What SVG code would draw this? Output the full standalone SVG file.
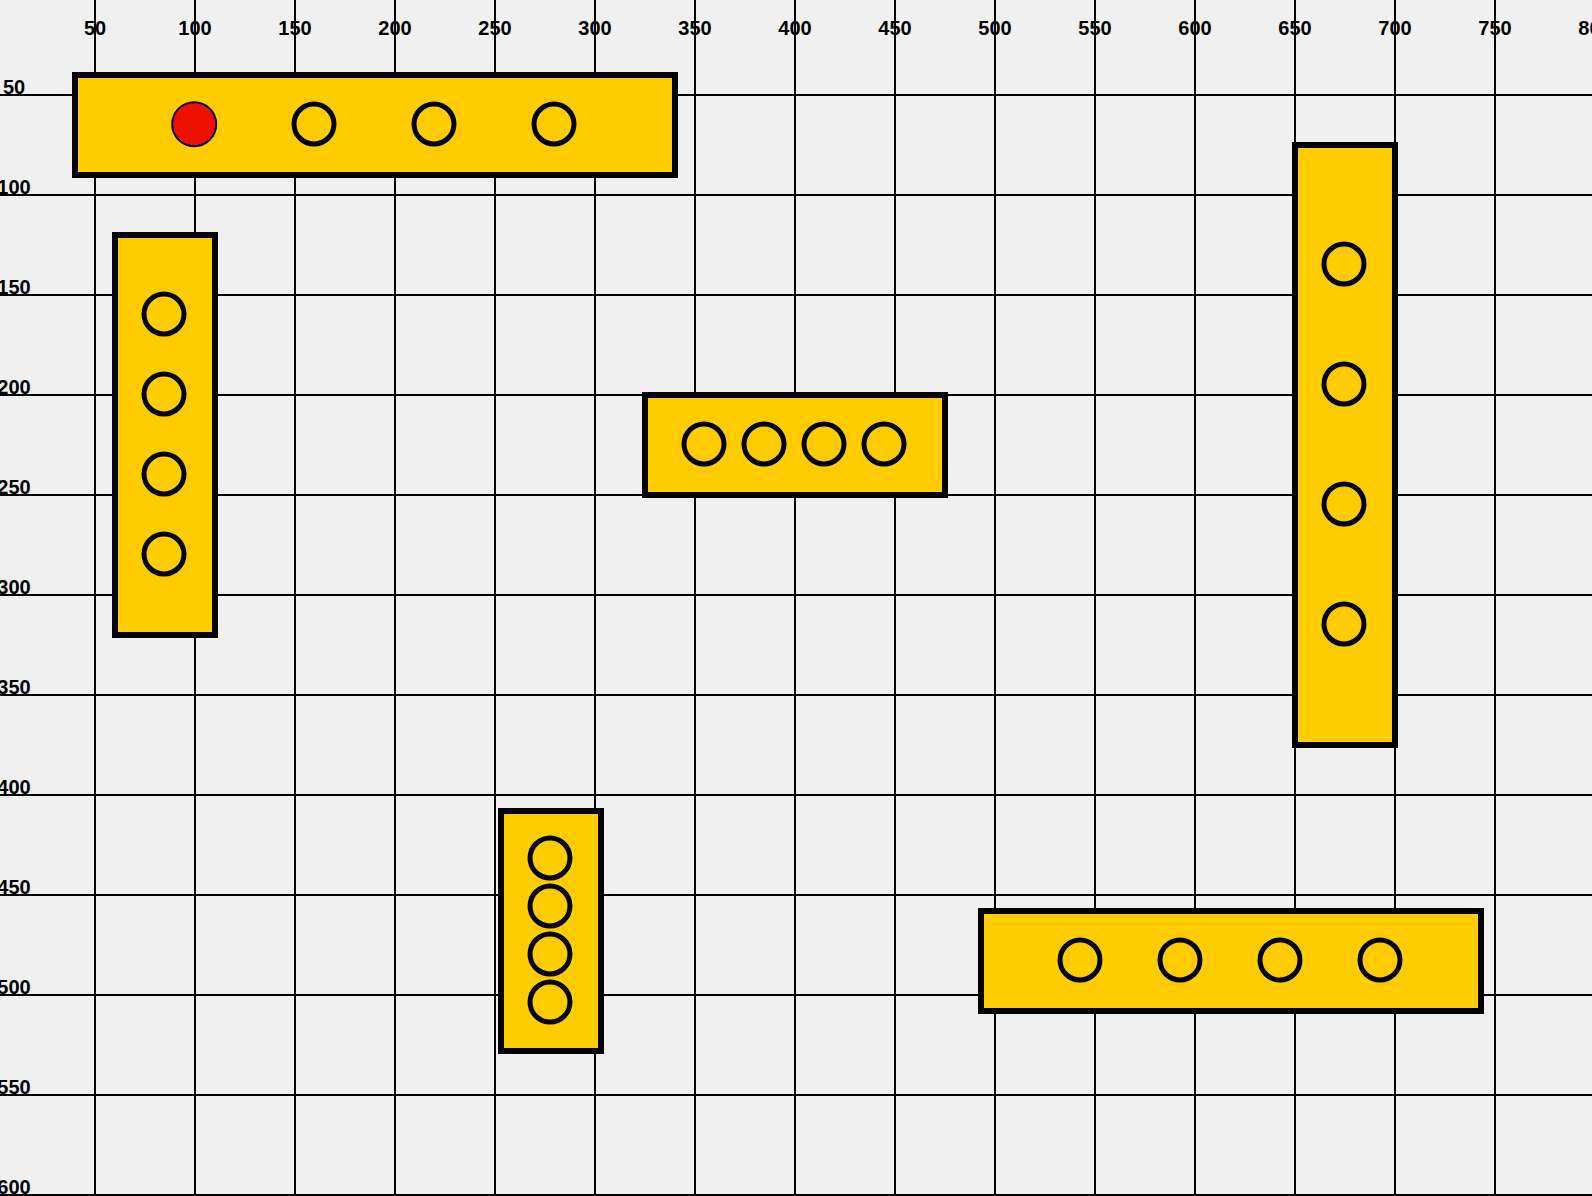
<svg xmlns="http://www.w3.org/2000/svg" width="1592" height="1196" viewBox="0 0 1592 1196">
<style>
.grid line{stroke:#000;stroke-width:1}
.lbl{font-family:"Liberation Sans",Arial,sans-serif;font-weight:bold;font-size:10px;fill:#000;text-anchor:middle}
.brick{fill:#FFCC00;stroke:#000;stroke-width:3}
.stud{fill:none;stroke:#000;stroke-width:2.5}
.stud-on{fill:#EE1100;stroke:#000;stroke-width:1}
</style>
<rect x="0" y="0" width="1592" height="1196" fill="#F0F0F0"/>
<g transform="translate(-5,-5) scale(2)">
<g id="grid" class="grid">
<line x1="50" y1="0" x2="50" y2="605"/>
<line x1="100" y1="0" x2="100" y2="605"/>
<line x1="150" y1="0" x2="150" y2="605"/>
<line x1="200" y1="0" x2="200" y2="605"/>
<line x1="250" y1="0" x2="250" y2="605"/>
<line x1="300" y1="0" x2="300" y2="605"/>
<line x1="350" y1="0" x2="350" y2="605"/>
<line x1="400" y1="0" x2="400" y2="605"/>
<line x1="450" y1="0" x2="450" y2="605"/>
<line x1="500" y1="0" x2="500" y2="605"/>
<line x1="550" y1="0" x2="550" y2="605"/>
<line x1="600" y1="0" x2="600" y2="605"/>
<line x1="650" y1="0" x2="650" y2="605"/>
<line x1="700" y1="0" x2="700" y2="605"/>
<line x1="750" y1="0" x2="750" y2="605"/>
<line x1="0" y1="50" x2="805" y2="50"/>
<line x1="0" y1="100" x2="805" y2="100"/>
<line x1="0" y1="150" x2="805" y2="150"/>
<line x1="0" y1="200" x2="805" y2="200"/>
<line x1="0" y1="250" x2="805" y2="250"/>
<line x1="0" y1="300" x2="805" y2="300"/>
<line x1="0" y1="350" x2="805" y2="350"/>
<line x1="0" y1="400" x2="805" y2="400"/>
<line x1="0" y1="450" x2="805" y2="450"/>
<line x1="0" y1="500" x2="805" y2="500"/>
<line x1="0" y1="550" x2="805" y2="550"/>
<line x1="0" y1="600" x2="805" y2="600"/>
</g>
<g id="labels">
<text class="lbl" x="50" y="20">50</text>
<text class="lbl" x="100" y="20">100</text>
<text class="lbl" x="150" y="20">150</text>
<text class="lbl" x="200" y="20">200</text>
<text class="lbl" x="250" y="20">250</text>
<text class="lbl" x="300" y="20">300</text>
<text class="lbl" x="350" y="20">350</text>
<text class="lbl" x="400" y="20">400</text>
<text class="lbl" x="450" y="20">450</text>
<text class="lbl" x="500" y="20">500</text>
<text class="lbl" x="550" y="20">550</text>
<text class="lbl" x="600" y="20">600</text>
<text class="lbl" x="650" y="20">650</text>
<text class="lbl" x="700" y="20">700</text>
<text class="lbl" x="750" y="20">750</text>
<text class="lbl" x="800" y="20">800</text>
<text class="lbl" x="9.5" y="49.25">50</text>
<text class="lbl" x="9.5" y="99.25">100</text>
<text class="lbl" x="9.5" y="149.25">150</text>
<text class="lbl" x="9.5" y="199.25">200</text>
<text class="lbl" x="9.5" y="249.25">250</text>
<text class="lbl" x="9.5" y="299.25">300</text>
<text class="lbl" x="9.5" y="349.25">350</text>
<text class="lbl" x="9.5" y="399.25">400</text>
<text class="lbl" x="9.5" y="449.25">450</text>
<text class="lbl" x="9.5" y="499.25">500</text>
<text class="lbl" x="9.5" y="549.25">550</text>
<text class="lbl" x="9.5" y="599.25">600</text>
</g>
<g id="brick1">
<rect class="brick" x="40" y="40" width="300" height="50"/>
<circle class="stud-on" cx="99.6" cy="64.6" r="11"/>
<circle class="stud" cx="159.5" cy="64.5" r="10"/>
<circle class="stud" cx="219.5" cy="64.5" r="10"/>
<circle class="stud" cx="279.5" cy="64.5" r="10"/>
</g>
<g id="brick2">
<rect class="brick" x="60" y="120" width="50" height="200"/>
<circle class="stud" cx="84.5" cy="159.5" r="10"/>
<circle class="stud" cx="84.5" cy="199.5" r="10"/>
<circle class="stud" cx="84.5" cy="239.5" r="10"/>
<circle class="stud" cx="84.5" cy="279.5" r="10"/>
</g>
<g id="brick3">
<rect class="brick" x="325" y="200" width="150" height="50"/>
<circle class="stud" cx="354.5" cy="224.5" r="10"/>
<circle class="stud" cx="384.5" cy="224.5" r="10"/>
<circle class="stud" cx="414.5" cy="224.5" r="10"/>
<circle class="stud" cx="444.5" cy="224.5" r="10"/>
</g>
<g id="brick4">
<rect class="brick" x="650" y="75" width="50" height="300"/>
<circle class="stud" cx="674.5" cy="134.5" r="10"/>
<circle class="stud" cx="674.5" cy="194.5" r="10"/>
<circle class="stud" cx="674.5" cy="254.5" r="10"/>
<circle class="stud" cx="674.5" cy="314.5" r="10"/>
</g>
<g id="brick5">
<rect class="brick" x="253" y="408" width="50" height="120"/>
<circle class="stud" cx="277.5" cy="431.5" r="10"/>
<circle class="stud" cx="277.5" cy="455.5" r="10"/>
<circle class="stud" cx="277.5" cy="479.5" r="10"/>
<circle class="stud" cx="277.5" cy="503.5" r="10"/>
</g>
<g id="brick6">
<rect class="brick" x="493" y="458" width="250" height="50"/>
<circle class="stud" cx="542.5" cy="482.5" r="10"/>
<circle class="stud" cx="592.5" cy="482.5" r="10"/>
<circle class="stud" cx="642.5" cy="482.5" r="10"/>
<circle class="stud" cx="692.5" cy="482.5" r="10"/>
</g>
</g>
</svg>
